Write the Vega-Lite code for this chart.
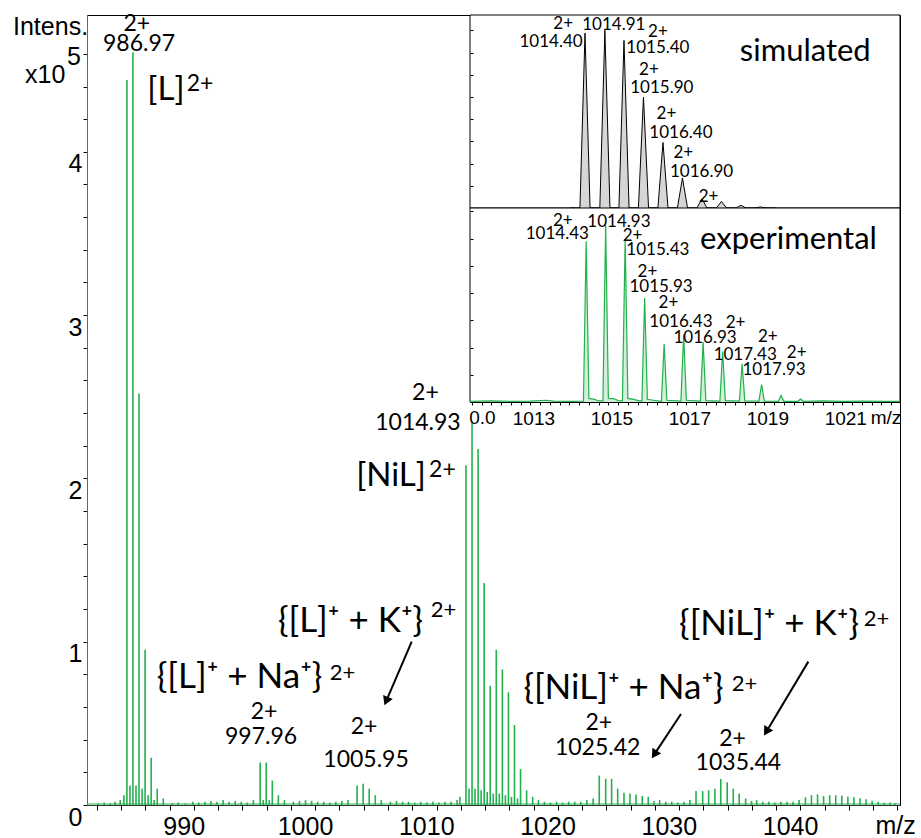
{
  "$schema": "https://vega.github.io/schema/vega-lite/v6.json",
  "width": 813,
  "height": 790,
  "autosize": {"type": "none"},
  "padding": {"left": 87, "top": 15, "right": 21, "bottom": 33},
  "background": "#ffffff",
  "config": {
    "view": {"stroke": "#000000", "strokeWidth": 1},
    "axis": {"grid": false, "labelColor": "#000000", "tickColor": "#000000", "domainColor": "#333333", "labelOverlap": false, "labelFlush": false, "labelBound": false}
  },
  "datasets": {
    "main": [
      {"mz": 984.1, "h": 0.01}, {"mz": 984.6, "h": 0.015}, {"mz": 985.1, "h": 0.01}, {"mz": 985.5, "h": 0.02}, {"mz": 985.92, "h": 0.03},
      {"mz": 986.22, "h": 0.06}, {"mz": 986.47, "h": 4.44}, {"mz": 986.72, "h": 0.12}, {"mz": 986.97, "h": 4.61}, {"mz": 987.22, "h": 0.12},
      {"mz": 987.47, "h": 2.52}, {"mz": 987.72, "h": 0.1}, {"mz": 987.97, "h": 0.95}, {"mz": 988.22, "h": 0.06}, {"mz": 988.47, "h": 0.29},
      {"mz": 988.72, "h": 0.03}, {"mz": 988.97, "h": 0.1}, {"mz": 989.47, "h": 0.04},
      {"mz": 990.2, "h": 0.01}, {"mz": 990.7, "h": 0.015}, {"mz": 991.3, "h": 0.01}, {"mz": 991.9, "h": 0.02}, {"mz": 992.4, "h": 0.015},
      {"mz": 992.9, "h": 0.02}, {"mz": 993.4, "h": 0.025}, {"mz": 993.9, "h": 0.02}, {"mz": 994.4, "h": 0.03}, {"mz": 994.9, "h": 0.02},
      {"mz": 995.4, "h": 0.025}, {"mz": 995.9, "h": 0.02}, {"mz": 996.4, "h": 0.015}, {"mz": 996.9, "h": 0.03},
      {"mz": 997.46, "h": 0.26}, {"mz": 997.71, "h": 0.03}, {"mz": 997.96, "h": 0.26}, {"mz": 998.21, "h": 0.03}, {"mz": 998.46, "h": 0.15},
      {"mz": 998.96, "h": 0.06}, {"mz": 999.46, "h": 0.03},
      {"mz": 1000.2, "h": 0.02}, {"mz": 1000.7, "h": 0.025}, {"mz": 1001.2, "h": 0.03}, {"mz": 1001.7, "h": 0.025}, {"mz": 1002.2, "h": 0.02},
      {"mz": 1002.7, "h": 0.02}, {"mz": 1003.2, "h": 0.015}, {"mz": 1003.7, "h": 0.02}, {"mz": 1004.2, "h": 0.025}, {"mz": 1004.7, "h": 0.03},
      {"mz": 1005.45, "h": 0.12}, {"mz": 1005.95, "h": 0.13}, {"mz": 1006.45, "h": 0.1}, {"mz": 1006.95, "h": 0.06}, {"mz": 1007.45, "h": 0.03},
      {"mz": 1008.2, "h": 0.02}, {"mz": 1008.7, "h": 0.025}, {"mz": 1009.2, "h": 0.02}, {"mz": 1009.7, "h": 0.02}, {"mz": 1010.2, "h": 0.015},
      {"mz": 1010.7, "h": 0.02}, {"mz": 1011.2, "h": 0.015}, {"mz": 1011.7, "h": 0.02}, {"mz": 1012.2, "h": 0.015}, {"mz": 1012.7, "h": 0.02},
      {"mz": 1013.2, "h": 0.02}, {"mz": 1013.7, "h": 0.03}, {"mz": 1013.93, "h": 0.05},
      {"mz": 1014.43, "h": 2.08}, {"mz": 1014.68, "h": 0.1}, {"mz": 1014.93, "h": 2.35}, {"mz": 1015.18, "h": 0.1}, {"mz": 1015.43, "h": 2.18},
      {"mz": 1015.68, "h": 0.09}, {"mz": 1015.93, "h": 1.36}, {"mz": 1016.18, "h": 0.08}, {"mz": 1016.43, "h": 0.73}, {"mz": 1016.68, "h": 0.07},
      {"mz": 1016.93, "h": 0.95}, {"mz": 1017.18, "h": 0.07}, {"mz": 1017.43, "h": 0.83}, {"mz": 1017.68, "h": 0.06}, {"mz": 1017.93, "h": 0.69},
      {"mz": 1018.18, "h": 0.05}, {"mz": 1018.43, "h": 0.49}, {"mz": 1018.68, "h": 0.04}, {"mz": 1018.93, "h": 0.22}, {"mz": 1019.43, "h": 0.09},
      {"mz": 1019.93, "h": 0.05},
      {"mz": 1020.4, "h": 0.03}, {"mz": 1020.9, "h": 0.02}, {"mz": 1021.4, "h": 0.015}, {"mz": 1021.9, "h": 0.02}, {"mz": 1022.4, "h": 0.015},
      {"mz": 1022.9, "h": 0.02}, {"mz": 1023.4, "h": 0.02}, {"mz": 1023.9, "h": 0.02}, {"mz": 1024.4, "h": 0.03}, {"mz": 1024.92, "h": 0.04},
      {"mz": 1025.42, "h": 0.18}, {"mz": 1025.95, "h": 0.16}, {"mz": 1026.44, "h": 0.16}, {"mz": 1026.94, "h": 0.1}, {"mz": 1027.46, "h": 0.075},
      {"mz": 1027.95, "h": 0.07}, {"mz": 1028.45, "h": 0.065}, {"mz": 1028.97, "h": 0.055}, {"mz": 1029.46, "h": 0.05}, {"mz": 1029.93, "h": 0.025},
      {"mz": 1030.4, "h": 0.03}, {"mz": 1030.9, "h": 0.02}, {"mz": 1031.4, "h": 0.02}, {"mz": 1031.9, "h": 0.015}, {"mz": 1032.4, "h": 0.02},
      {"mz": 1032.9, "h": 0.03},
      {"mz": 1033.4, "h": 0.085}, {"mz": 1033.95, "h": 0.085}, {"mz": 1034.44, "h": 0.09}, {"mz": 1034.96, "h": 0.1}, {"mz": 1035.44, "h": 0.16},
      {"mz": 1035.97, "h": 0.14}, {"mz": 1036.47, "h": 0.1}, {"mz": 1036.96, "h": 0.07}, {"mz": 1037.49, "h": 0.04}, {"mz": 1037.98, "h": 0.025},
      {"mz": 1038.4, "h": 0.03}, {"mz": 1038.9, "h": 0.02}, {"mz": 1039.4, "h": 0.02}, {"mz": 1039.9, "h": 0.015}, {"mz": 1040.4, "h": 0.02},
      {"mz": 1040.9, "h": 0.02}, {"mz": 1041.4, "h": 0.02}, {"mz": 1041.9, "h": 0.03},
      {"mz": 1042.42, "h": 0.047}, {"mz": 1042.92, "h": 0.061}, {"mz": 1043.42, "h": 0.065}, {"mz": 1043.92, "h": 0.055}, {"mz": 1044.42, "h": 0.061},
      {"mz": 1044.92, "h": 0.059}, {"mz": 1045.42, "h": 0.057}, {"mz": 1045.92, "h": 0.051}, {"mz": 1046.42, "h": 0.047}, {"mz": 1046.92, "h": 0.041},
      {"mz": 1047.42, "h": 0.035}, {"mz": 1047.92, "h": 0.026}, {"mz": 1048.42, "h": 0.02}, {"mz": 1048.92, "h": 0.014}, {"mz": 1049.4, "h": 0.015},
      {"mz": 1049.8, "h": 0.01}
    ],
    "mainText": [
      {"kind": "num", "mz": 987.28, "v": 4.783, "t": "2+"},
      {"kind": "num", "mz": 987.47, "v": 4.66, "t": "986.97"},
      {"kind": "num", "mz": 1011.09, "v": 2.523, "t": "2+"},
      {"kind": "num", "mz": 1010.47, "v": 2.339, "t": "1014.93"},
      {"kind": "num", "mz": 997.78, "v": 0.57, "t": "2+"},
      {"kind": "num", "mz": 997.53, "v": 0.416, "t": "997.96"},
      {"kind": "num", "mz": 1006.02, "v": 0.478, "t": "2+"},
      {"kind": "num", "mz": 1006.19, "v": 0.276, "t": "1005.95"},
      {"kind": "num", "mz": 1025.38, "v": 0.505, "t": "2+"},
      {"kind": "num", "mz": 1025.29, "v": 0.347, "t": "1025.42"},
      {"kind": "num", "mz": 1036.41, "v": 0.403, "t": "2+"},
      {"kind": "num", "mz": 1036.89, "v": 0.255, "t": "1035.44"},
      {"kind": "ion", "mz": 989.69, "v": 4.378, "t": "[L]"},
      {"kind": "ion", "mz": 1008.25, "v": 2.015, "t": "[NiL]"},
      {"kind": "ionsup", "mz": 992.5, "v": 4.418, "t": "2+"},
      {"kind": "ionsup", "mz": 1012.49, "v": 2.05, "t": "2+"},
      {"kind": "adduct", "mz": 1004.91, "v": 1.127, "t": "{[L]⁺ + K⁺}"},
      {"kind": "adduct", "mz": 995.76, "v": 0.781, "t": "{[L]⁺ + Na⁺}"},
      {"kind": "adduct", "mz": 1027.42, "v": 0.716, "t": "{[NiL]⁺ + Na⁺}"},
      {"kind": "adduct", "mz": 1039.42, "v": 1.108, "t": "{[NiL]⁺ + K⁺}"},
      {"kind": "adductsup", "mz": 1012.58, "v": 1.194, "t": "2+"},
      {"kind": "adductsup", "mz": 1004.25, "v": 0.811, "t": "2+"},
      {"kind": "adductsup", "mz": 1037.4, "v": 0.744, "t": "2+"},
      {"kind": "adductsup", "mz": 1048.28, "v": 1.142, "t": "2+"},
      {"kind": "axis", "mz": 977.08, "v": 4.715, "t": "Intens."},
      {"kind": "axis", "mz": 978.07, "v": 4.421, "t": "x10"},
      {"kind": "axis", "mz": 981.53, "v": 4.532, "t": "5"},
      {"kind": "axis", "mz": 1048.2, "v": -0.175, "t": "m/z"}
    ],
    "arrows": [
      {"x1": 1009.955, "y1": 1.0, "x2": 1007.85, "y2": 0.636},
      {"x1": 1032.16, "y1": 0.557, "x2": 1029.96, "y2": 0.31},
      {"x1": 1042.66, "y1": 0.878, "x2": 1039.2, "y2": 0.449}
    ],
    "sim": [
      {"mz": 1014.0, "h": 0},
      {"mz": 1014.27, "h": 0}, {"mz": 1014.4, "h": 98.5}, {"mz": 1014.53, "h": 0},
      {"mz": 1014.78, "h": 0}, {"mz": 1014.91, "h": 100}, {"mz": 1015.04, "h": 0},
      {"mz": 1015.27, "h": 0}, {"mz": 1015.4, "h": 94.4}, {"mz": 1015.53, "h": 0},
      {"mz": 1015.77, "h": 0}, {"mz": 1015.9, "h": 62.5}, {"mz": 1016.03, "h": 0},
      {"mz": 1016.27, "h": 0}, {"mz": 1016.4, "h": 36.9}, {"mz": 1016.53, "h": 0},
      {"mz": 1016.77, "h": 0}, {"mz": 1016.9, "h": 16.9}, {"mz": 1017.03, "h": 0},
      {"mz": 1017.27, "h": 0}, {"mz": 1017.4, "h": 5.1}, {"mz": 1017.53, "h": 0},
      {"mz": 1017.77, "h": 0}, {"mz": 1017.9, "h": 3.7}, {"mz": 1018.03, "h": 0},
      {"mz": 1018.27, "h": 0}, {"mz": 1018.4, "h": 1.5}, {"mz": 1018.53, "h": 0},
      {"mz": 1018.77, "h": 0}, {"mz": 1018.9, "h": 0.6}, {"mz": 1019.03, "h": 0},
      {"mz": 1019.3, "h": 0}
    ],
    "simText": [
      {"kind": "num", "mz": 1013.84, "v": 103.6, "t": "2+"},
      {"kind": "num", "mz": 1013.53, "v": 93.7, "t": "1014.40"},
      {"kind": "num", "mz": 1015.14, "v": 103.1, "t": "1014.91"},
      {"kind": "num", "mz": 1016.27, "v": 99.3, "t": "2+"},
      {"kind": "num", "mz": 1016.27, "v": 90.1, "t": "1015.40"},
      {"kind": "num", "mz": 1016.04, "v": 77.7, "t": "2+"},
      {"kind": "num", "mz": 1016.37, "v": 67.6, "t": "1015.90"},
      {"kind": "num", "mz": 1016.49, "v": 52.9, "t": "2+"},
      {"kind": "num", "mz": 1016.86, "v": 42.2, "t": "1016.40"},
      {"kind": "num", "mz": 1016.92, "v": 31.0, "t": "2+"},
      {"kind": "num", "mz": 1017.39, "v": 20.4, "t": "1016.90"},
      {"kind": "num", "mz": 1017.57, "v": 6.4, "t": "2+"},
      {"kind": "title", "mz": 1020.05, "v": 87.9, "t": "simulated"}
    ],
    "exp": [
      {"mz": 1011.45, "h": 0.4}, {"mz": 1012.0, "h": 0.6}, {"mz": 1012.5, "h": 0.4}, {"mz": 1013.0, "h": 0.5}, {"mz": 1013.4, "h": 1.0},
      {"mz": 1013.6, "h": 0.5}, {"mz": 1014.0, "h": 0.4}, {"mz": 1014.36, "h": 0.5}, {"mz": 1014.43, "h": 90.6}, {"mz": 1014.5, "h": 2.0},
      {"mz": 1014.65, "h": 1.5}, {"mz": 1014.75, "h": 0.6}, {"mz": 1014.86, "h": 0.6}, {"mz": 1014.93, "h": 100}, {"mz": 1015.0, "h": 2.0},
      {"mz": 1015.15, "h": 1.8}, {"mz": 1015.25, "h": 0.8}, {"mz": 1015.36, "h": 0.6}, {"mz": 1015.43, "h": 91.9}, {"mz": 1015.5, "h": 2.0},
      {"mz": 1015.65, "h": 1.5}, {"mz": 1015.78, "h": 0.6}, {"mz": 1015.86, "h": 0.6}, {"mz": 1015.93, "h": 58.7}, {"mz": 1016.0, "h": 1.5},
      {"mz": 1016.15, "h": 1.0}, {"mz": 1016.3, "h": 0.5}, {"mz": 1016.36, "h": 0.5}, {"mz": 1016.43, "h": 32.9}, {"mz": 1016.5, "h": 1.0},
      {"mz": 1016.86, "h": 0.5}, {"mz": 1016.93, "h": 38.0}, {"mz": 1017.0, "h": 1.0}, {"mz": 1017.36, "h": 0.5}, {"mz": 1017.43, "h": 33.8},
      {"mz": 1017.5, "h": 0.8}, {"mz": 1017.86, "h": 0.5}, {"mz": 1017.93, "h": 28.5}, {"mz": 1018.0, "h": 0.8}, {"mz": 1018.36, "h": 0.5},
      {"mz": 1018.43, "h": 21.6}, {"mz": 1018.5, "h": 0.6}, {"mz": 1018.86, "h": 0.5}, {"mz": 1018.93, "h": 9.8}, {"mz": 1019.0, "h": 0.5},
      {"mz": 1019.36, "h": 0.4}, {"mz": 1019.43, "h": 3.7}, {"mz": 1019.5, "h": 0.4}, {"mz": 1019.86, "h": 0.4}, {"mz": 1019.93, "h": 1.7},
      {"mz": 1020.0, "h": 0.4}, {"mz": 1020.5, "h": 0.6}, {"mz": 1021.0, "h": 0.4}, {"mz": 1021.5, "h": 0.5}, {"mz": 1022.0, "h": 0.4},
      {"mz": 1022.48, "h": 0.4}
    ],
    "expText": [
      {"kind": "num", "mz": 1013.83, "v": 102.1, "t": "2+"},
      {"kind": "num", "mz": 1013.69, "v": 94.7, "t": "1014.43"},
      {"kind": "num", "mz": 1015.27, "v": 101.7, "t": "1014.93"},
      {"kind": "num", "mz": 1015.62, "v": 93.6, "t": "2+"},
      {"kind": "num", "mz": 1016.27, "v": 85.7, "t": "1015.43"},
      {"kind": "num", "mz": 1016.0, "v": 73.5, "t": "2+"},
      {"kind": "num", "mz": 1016.35, "v": 65.0, "t": "1015.93"},
      {"kind": "num", "mz": 1016.54, "v": 55.7, "t": "2+"},
      {"kind": "num", "mz": 1016.86, "v": 45.3, "t": "1016.43"},
      {"kind": "num", "mz": 1018.26, "v": 44.4, "t": "2+"},
      {"kind": "num", "mz": 1017.48, "v": 35.9, "t": "1016.93"},
      {"kind": "num", "mz": 1019.09, "v": 36.4, "t": "2+"},
      {"kind": "num", "mz": 1018.51, "v": 26.5, "t": "1017.43"},
      {"kind": "num", "mz": 1019.83, "v": 27.5, "t": "2+"},
      {"kind": "num", "mz": 1019.25, "v": 18.0, "t": "1017.93"},
      {"kind": "title", "mz": 1019.62, "v": 91.4, "t": "experimental"},
      {"kind": "axis", "mz": 1011.77, "v": -9.0, "t": "0.0"},
      {"kind": "axis", "mz": 1022.12, "v": -9.0, "t": "m/z"}
    ]
  },
  "layer": [
    {
      "layer": [
        {
          "data": {"values": [{}]},
          "mark": {"type": "rule", "color": "#22b14c", "strokeWidth": 1.2},
          "encoding": {
            "y": {"datum": 0.006, "type": "quantitative",
              "scale": {"domain": [0, 4.838], "nice": false, "zero": false},
              "axis": {"orient": "left", "title": null, "values": [0.2, 0.4, 0.6, 0.8, 1.2, 1.4, 1.6, 1.8, 2.2, 2.4, 2.6, 2.8, 3.2, 3.4, 3.6, 3.8, 4.2, 4.4, 4.6],
                "labels": false, "domain": false, "tickSize": 4}}
          }
        },
        {
          "data": {"name": "main"},
          "mark": {"type": "rule", "color": "#22b14c", "strokeWidth": 1.6},
          "encoding": {
            "x": {"field": "mz", "type": "quantitative",
              "scale": {"domain": [983.18, 1050.22], "nice": false, "zero": false},
              "axis": {"orient": "bottom", "title": null, "values": [990, 1000, 1010, 1020, 1030, 1040],
                "format": "d", "labelOverlap": false,
                "tickSize": 5, "labelFont": "Liberation Sans", "labelFontSize": 25, "labelPadding": 4, "labelOffset": 14, "domainColor": "#333333"}},
            "y": {"field": "h", "type": "quantitative",
              "axis": {"orient": "left", "title": null, "values": [0, 1, 2, 3, 4], "format": "d", "labelOverlap": false,
                "tickSize": 4, "labelFont": "Liberation Sans", "labelFontSize": 25, "labelPadding": 1, "labelBaseline": "top", "domainColor": "#666666"}},
            "y2": {"datum": 0}
          }
        },
        {
          "data": {"name": "arrows"},
          "mark": {"type": "rule", "color": "#000000", "strokeWidth": 2},
          "encoding": {
            "x": {"field": "x1", "type": "quantitative",
              "axis": {"orient": "bottom", "title": null, "values": [984, 986, 988, 992, 994, 996, 998, 1002, 1004, 1006, 1008, 1012, 1014, 1016, 1018, 1022, 1024, 1026, 1028, 1032, 1034, 1036, 1038, 1042, 1044, 1046, 1048, 1050],
                "labels": false, "domain": false, "tickSize": 5}},
            "y": {"field": "y1", "type": "quantitative", "axis": null},
            "x2": {"field": "x2"}, "y2": {"field": "y2"}
          }
        },
        {
          "data": {"name": "arrows"},
          "transform": [{"calculate": "atan2((datum.x2 - datum.x1) * 12.127, (datum.y2 - datum.y1) * 163.3) * 180 / PI", "as": "ang"}],
          "mark": {"type": "point", "shape": "triangle-up", "filled": true, "color": "#000000", "opacity": 1, "size": 110, "strokeWidth": 0},
          "encoding": {
            "x": {"field": "x2", "type": "quantitative", "axis": null}, "y": {"field": "y2", "type": "quantitative", "axis": null},
            "angle": {"field": "ang", "type": "quantitative", "scale": null}
          }
        },
        {
          "data": {"name": "mainText"},
          "transform": [{"filter": "datum.kind === 'num' || datum.kind === 'ionsup'"}],
          "mark": {"type": "text", "font": "Lato", "fontSize": 23, "align": "center", "baseline": "middle", "color": "#000000"},
          "encoding": {"x": {"field": "mz", "type": "quantitative", "axis": null}, "y": {"field": "v", "type": "quantitative", "axis": null}, "text": {"field": "t", "type": "nominal"}}
        },
        {
          "data": {"name": "mainText"},
          "transform": [{"filter": "datum.kind === 'ion'"}],
          "mark": {"type": "text", "font": "Lato", "fontSize": 33, "align": "center", "baseline": "middle", "color": "#000000"},
          "encoding": {"x": {"field": "mz", "type": "quantitative", "axis": null}, "y": {"field": "v", "type": "quantitative", "axis": null}, "text": {"field": "t", "type": "nominal"}}
        },
        {
          "data": {"name": "mainText"},
          "transform": [{"filter": "datum.kind === 'adduct'"}],
          "mark": {"type": "text", "font": "Lato", "fontSize": 35, "align": "center", "baseline": "middle", "color": "#000000"},
          "encoding": {"x": {"field": "mz", "type": "quantitative", "axis": null}, "y": {"field": "v", "type": "quantitative", "axis": null}, "text": {"field": "t", "type": "nominal"}}
        },
        {
          "data": {"name": "mainText"},
          "transform": [{"filter": "datum.kind === 'adductsup'"}],
          "mark": {"type": "text", "font": "Lato", "fontSize": 22, "align": "center", "baseline": "middle", "color": "#000000"},
          "encoding": {"x": {"field": "mz", "type": "quantitative", "axis": null}, "y": {"field": "v", "type": "quantitative", "axis": null}, "text": {"field": "t", "type": "nominal"}}
        },
        {
          "data": {"name": "mainText"},
          "transform": [{"filter": "datum.kind === 'axis'"}],
          "mark": {"type": "text", "font": "Liberation Sans", "fontSize": 25, "align": "left", "baseline": "alphabetic", "color": "#000000"},
          "encoding": {"x": {"field": "mz", "type": "quantitative", "axis": null}, "y": {"field": "v", "type": "quantitative", "axis": null}, "text": {"field": "t", "type": "nominal"}}
        }
      ],
      "resolve": {"axis": {"x": "independent", "y": "independent"}}
    },
    {
      "layer": [
        {
          "data": {"values": [{}]},
          "mark": {"type": "rect", "fill": "#ffffff", "stroke": "#000000", "strokeWidth": 1},
          "encoding": {
            "x": {"datum": 1011.45, "type": "quantitative", "scale": {"domain": [1011.45, 1022.48], "range": [383, 813], "nice": false, "zero": false}, "axis": null},
            "x2": {"datum": 1022.48},
            "y": {"datum": 0, "type": "quantitative", "scale": {"domain": [0, 108.7], "range": [193, 0], "nice": false, "zero": false},
              "axis": {"orient": "right", "title": null, "offset": -430, "labels": false, "domain": false, "tickSize": 3, "values": [12.5, 25, 37.5, 50, 62.5, 75, 87.5, 100], "zindex": 1}},
            "y2": {"datum": 108.7}
          }
        },
        {
          "data": {"name": "sim"},
          "mark": {"type": "area", "color": "#d6d6d6", "opacity": 1, "line": {"color": "#000000", "strokeWidth": 1}},
          "encoding": {"x": {"field": "mz", "type": "quantitative"}, "y": {"field": "h", "type": "quantitative", "stack": null}}
        },
        {
          "data": {"name": "simText"},
          "transform": [{"filter": "datum.kind === 'num'"}],
          "mark": {"type": "text", "font": "Lato", "fontSize": 17, "align": "center", "baseline": "middle", "color": "#000000"},
          "encoding": {"x": {"field": "mz", "type": "quantitative"}, "y": {"field": "v", "type": "quantitative"}, "text": {"field": "t", "type": "nominal"}}
        },
        {
          "data": {"name": "simText"},
          "transform": [{"filter": "datum.kind === 'title'"}],
          "mark": {"type": "text", "font": "Lato", "fontSize": 31, "align": "center", "baseline": "middle", "color": "#000000"},
          "encoding": {"x": {"field": "mz", "type": "quantitative"}, "y": {"field": "v", "type": "quantitative"}, "text": {"field": "t", "type": "nominal"}}
        }
      ]
    },
    {
      "layer": [
        {
          "data": {"values": [{}]},
          "mark": {"type": "rect", "fill": "#ffffff", "stroke": "#000000", "strokeWidth": 1},
          "encoding": {
            "x": {"datum": 1011.45, "type": "quantitative", "scale": {"domain": [1011.45, 1022.48], "range": [383, 813], "nice": false, "zero": false},
              "axis": {"orient": "bottom", "title": null, "offset": -403, "values": [1013, 1015, 1017, 1019, 1021],
                "format": "d", "labelOverlap": false,
                "tickSize": 3, "labelFont": "Liberation Sans", "labelFontSize": 19, "labelPadding": 4, "labelOffset": 3, "domainColor": "#000000", "zindex": 1}},
            "x2": {"datum": 1022.48},
            "y": {"datum": 0, "type": "quantitative", "scale": {"domain": [0, 109.4], "range": [387, 193], "nice": false, "zero": false},
              "axis": {"orient": "right", "title": null, "offset": -430, "labels": false, "domain": false, "tickSize": 3, "values": [15.35, 30.7, 46.05, 61.4, 76.75, 92.1, 107.45], "zindex": 1}},
            "y2": {"datum": 109.4}
          }
        },
        {
          "data": {"name": "exp"},
          "mark": {"type": "area", "color": "#d3efd9", "opacity": 1, "line": {"color": "#22b14c", "strokeWidth": 1.2}},
          "encoding": {
            "x": {"field": "mz", "type": "quantitative",
              "axis": {"orient": "bottom", "title": null, "offset": -403, "labels": false, "domain": false, "tickSize": 3, "zindex": 1,
                "values": [1011.5, 1011.75, 1012, 1012.25, 1012.5, 1012.75, 1013.25, 1013.5, 1013.75, 1014, 1014.25, 1014.5, 1014.75, 1015.25, 1015.5, 1015.75, 1016, 1016.25, 1016.5, 1016.75, 1017.25, 1017.5, 1017.75, 1018, 1018.25, 1018.5, 1018.75, 1019.25, 1019.5, 1019.75, 1020, 1020.25, 1020.5, 1020.75, 1021.25, 1021.5, 1021.75, 1022, 1022.25]}},
            "y": {"field": "h", "type": "quantitative", "stack": null, "axis": null}
          }
        },
        {
          "data": {"name": "expText"},
          "transform": [{"filter": "datum.kind === 'num'"}],
          "mark": {"type": "text", "font": "Lato", "fontSize": 17, "align": "center", "baseline": "middle", "color": "#000000"},
          "encoding": {"x": {"field": "mz", "type": "quantitative", "axis": null}, "y": {"field": "v", "type": "quantitative", "axis": null}, "text": {"field": "t", "type": "nominal"}}
        },
        {
          "data": {"name": "expText"},
          "transform": [{"filter": "datum.kind === 'title'"}],
          "mark": {"type": "text", "font": "Lato", "fontSize": 31, "align": "center", "baseline": "middle", "color": "#000000"},
          "encoding": {"x": {"field": "mz", "type": "quantitative", "axis": null}, "y": {"field": "v", "type": "quantitative", "axis": null}, "text": {"field": "t", "type": "nominal"}}
        },
        {
          "data": {"name": "expText"},
          "transform": [{"filter": "datum.kind === 'axis'"}],
          "mark": {"type": "text", "font": "Liberation Sans", "fontSize": 19, "align": "center", "baseline": "middle", "color": "#000000"},
          "encoding": {"x": {"field": "mz", "type": "quantitative", "axis": null}, "y": {"field": "v", "type": "quantitative", "axis": null}, "text": {"field": "t", "type": "nominal"}}
        }
      ],
      "resolve": {"axis": {"x": "independent", "y": "independent"}}
    }
  ],
  "resolve": {
    "scale": {"x": "independent", "y": "independent"},
    "axis": {"x": "independent", "y": "independent"}
  }
}
